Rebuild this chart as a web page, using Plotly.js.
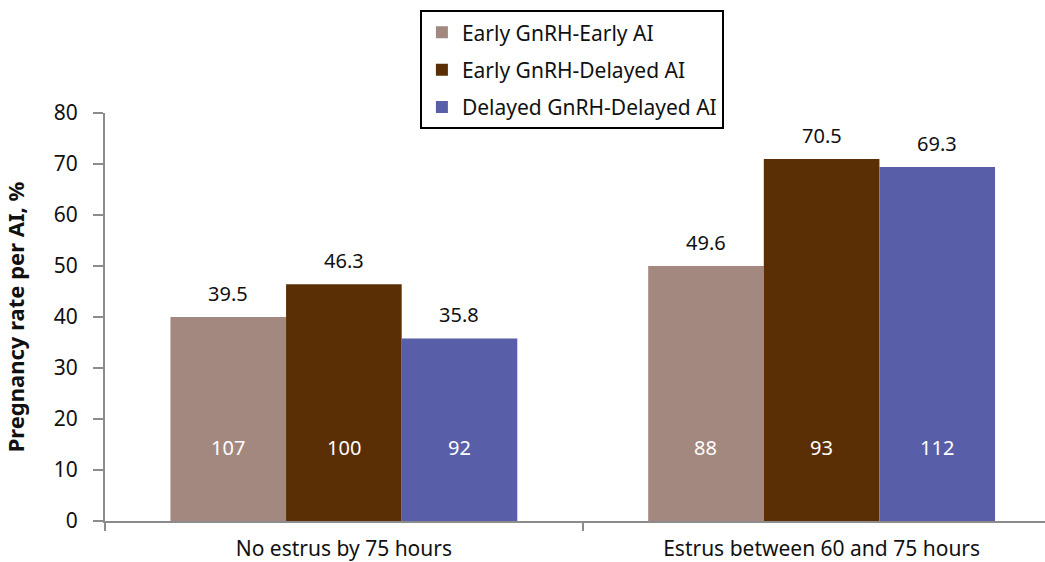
<!DOCTYPE html>
<html>
<head>
<meta charset="utf-8">
<script src="https://cdn.plot.ly/plotly-3.0.1.min.js"></script>
<style>html,body{margin:0;padding:0;background:#fff;}#chart{width:1045px;height:562px;}</style>
</head>
<body>
<div id="chart"></div>
<script>
var categories = ["No estrus by 75 hours", "Estrus between 60 and 75 hours"];
var seriesNames = ["Early GnRH-Early AI", "Early GnRH-Delayed AI", "Delayed GnRH-Delayed AI"];
// bar heights as drawn in the picture
var barHeights = [
  [40.0, 50.0],
  [46.4, 71.0],
  [35.8, 69.4]
];
// value labels printed above the bars
var rateLabels = [
  ["39.5", "49.6"],
  ["46.3", "70.5"],
  ["35.8", "69.3"]
];
// counts printed inside the bars
var counts = [
  [107, 88],
  [100, 93],
  [92, 112]
];
var colors = ["#a3887f", "#5a2f06", "#585ea8"];
var yTicks = [0, 10, 20, 30, 40, 50, 60, 70, 80];

var FONT = "Noto Sans, Open Sans, sans-serif";
var marginL = 105, marginR = 0, W = 1045;
var xRange = [-0.5, 1.4676];
var bargap = 0.274;
var plotW = W - marginL - marginR;
var catPx = plotW / (xRange[1] - xRange[0]);
var barPx = catPx * (1 - bargap) / seriesNames.length;

var traces = seriesNames.map(function (name, i) {
  return {
    type: "bar",
    name: name,
    x: categories,
    y: barHeights[i],
    marker: { color: colors[i], line: { width: 0 } },
    legendgroup: "g" + i,
    hoverinfo: "none"
  };
});

var annotations = [];
seriesNames.forEach(function (name, i) {
  categories.forEach(function (c, j) {
    annotations.push({
      x: c, y: barHeights[i][j], xref: "x", yref: "y",
      text: rateLabels[i][j], showarrow: false,
      yanchor: "bottom", yshift: 8, xshift: (i - 1) * barPx,
      font: { family: FONT, size: 20, color: "#111" }
    });
    annotations.push({
      x: c, y: 14.5, xref: "x", yref: "y",
      text: String(counts[i][j]), showarrow: false,
      yanchor: "middle", xshift: (i - 1) * barPx,
      font: { family: FONT, size: 20, color: "#ffffff" }
    });
  });
});

var layout = {
  width: 1045, height: 562,
  margin: { l: marginL, r: marginR, t: 113, b: 41, pad: 0 },
  paper_bgcolor: "#fff", plot_bgcolor: "#fff",
  barmode: "group",
  bargap: bargap, bargroupgap: 0,
  font: { family: FONT, size: 20, color: "#111" },
  showlegend: true,
  legend: {
    x: 0.335, y: 1.252, xanchor: "left", yanchor: "top",
    bordercolor: "#000", borderwidth: 2, bgcolor: "#fff",
    font: { family: FONT, size: 21, color: "#111" },
    tracegroupgap: 7
  },
  xaxis: {
    type: "category",
    range: xRange,
    showline: true, linecolor: "#8c8c8c", linewidth: 2,
    ticks: "outside", tickson: "boundaries", ticklen: 8, tickcolor: "#8c8c8c", tickwidth: 2,
    showgrid: false, zeroline: false,
    tickfont: { family: FONT, size: 21, color: "#111" },
    ticklabelstandoff: 8
  },
  yaxis: {
    range: [0, 80],
    tickvals: yTicks, ticktext: yTicks.map(String),
    showline: true, linecolor: "#8c8c8c", linewidth: 2,
    ticks: "outside", ticklen: 10, tickcolor: "#8c8c8c", tickwidth: 2,
    showgrid: false, zeroline: false,
    tickfont: { family: FONT, size: 21, color: "#111" },
    ticklabelstandoff: 11,
    title: { text: "<b>Pregnancy rate per AI, %</b>", font: { family: FONT, size: 22, color: "#111" }, standoff: 24 }
  },
  annotations: annotations
};

Plotly.newPlot("chart", traces, layout, { displayModeBar: false, staticPlot: true });
</script>
</body>
</html>
